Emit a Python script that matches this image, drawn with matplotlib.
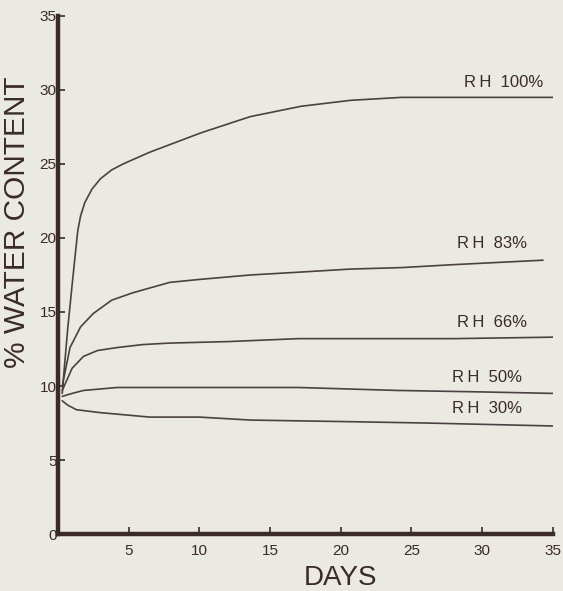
"""Water content vs. days at several relative humidities (scanned figure redraw)."""
import matplotlib
matplotlib.use("Agg")
import matplotlib.pyplot as plt

# Values
rh100_days = [0.3, 0.5, 0.7, 1.06, 1.4, 1.6, 1.9, 2.4, 3.0, 3.8, 4.6, 6.5, 10.1, 13.6, 17.2, 20.7, 24.3, 28, 35]
rh100_wc = [9.5, 11.8, 14.0, 17.4, 20.5, 21.5, 22.4, 23.3, 24.0, 24.6, 25.0, 25.8, 27.1, 28.2, 28.9, 29.3, 29.5, 29.5, 29.5]

rh83_days = [0.3, 0.85, 1.6, 2.5, 3.8, 5.3, 7.9, 10, 13.6, 17.2, 20.7, 24.3, 28, 34.3]
rh83_wc = [10.0, 12.6, 14.0, 14.9, 15.8, 16.3, 17.0, 17.2, 17.5, 17.7, 17.9, 18.0, 18.2, 18.5]

rh66_days = [0.3, 1.0, 1.8, 2.8, 4.2, 6, 7.9, 12, 17, 22, 28, 35]
rh66_wc = [9.7, 11.2, 12.0, 12.4, 12.6, 12.8, 12.9, 13.0, 13.2, 13.2, 13.2, 13.3]

rh50_days = [0.3, 1, 1.8, 4.2, 10, 17, 24, 30, 35]
rh50_wc = [9.3, 9.5, 9.7, 9.9, 9.9, 9.9, 9.7, 9.6, 9.5]

rh30_days = [0.3, 0.7, 1.3, 3, 6.5, 10, 13.6, 20, 26, 35]
rh30_wc = [9.0, 8.7, 8.4, 8.2, 7.9, 7.9, 7.7, 7.6, 7.5, 7.3]

series = [
    (rh100_days, rh100_wc, "R\u2009H  100%", 28.7, 30.5),
    (rh83_days, rh83_wc, "R\u2009H  83%", 28.2, 19.6),
    (rh66_days, rh66_wc, "R\u2009H  66%", 28.2, 14.3),
    (rh50_days, rh50_wc, "R\u2009H  50%", 27.9, 10.6),
    (rh30_days, rh30_wc, "R\u2009H  30%", 27.9, 8.5),
]

x_ticks = [5, 10, 15, 20, 25, 30, 35]
y_ticks = [0, 5, 10, 15, 20, 25, 30, 35]

paper = "#eae9e2"
ink = "#3a2a28"
line_col = "#4a4242"

plt.rcParams["font.family"] = ["Liberation Sans", "DejaVu Sans"]

fig = plt.figure(figsize=(5.63, 5.91), dpi=100, facecolor=paper)
ax = fig.add_axes([0.103, 0.0964, 0.879, 0.8766])
ax.set_facecolor(paper)

for days, wc, label, lx, ly in series:
    ax.plot(days, wc, color=line_col, lw=1.2, solid_capstyle="round")
    ax.text(lx, ly, label, fontsize=12, color=ink, va="center", ha="left")

ax.set_xlim(0, 35)
ax.set_ylim(0, 35)
ax.set_xticks(x_ticks)
ax.set_yticks(y_ticks)
ax.tick_params(direction="in", length=5, width=1.2, colors=ink, labelsize=11)
ax.tick_params(axis="x", pad=7)
ax.tick_params(axis="y", pad=1)
for side in ("top", "right"):
    ax.spines[side].set_visible(False)
for side in ("left", "bottom"):
    ax.spines[side].set_linewidth(3.2)
    ax.spines[side].set_color(ink)

fig.text(0.030, 0.624, "% WATER CONTENT", rotation=90, fontsize=21.5,
         color=ink, ha="center", va="center")
fig.text(0.604, 0.022, "DAYS", fontsize=20, color=ink, ha="center", va="center")

fig.savefig("out.png", dpi=100, facecolor=paper)
